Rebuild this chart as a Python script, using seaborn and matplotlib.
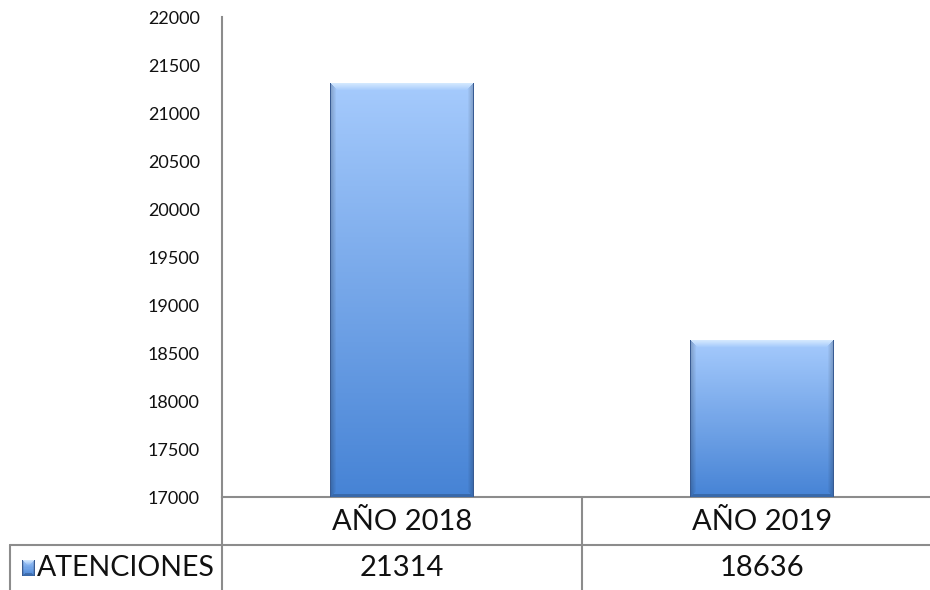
import numpy as np
import pandas as pd
import matplotlib
matplotlib.use("Agg")
import matplotlib.pyplot as plt
import matplotlib.transforms as mtransforms
from matplotlib.lines import Line2D
import seaborn as sns

categories = ["AÑO 2018", "AÑO 2019"]
values = [21314, 18636]
series_name = "ATENCIONES"
y_ticks = [17000, 17500, 18000, 18500, 19000, 19500, 20000, 20500, 21000, 21500, 22000]

sns.set_style("white")
plt.rcParams['font.family'] = ['Lato', 'DejaVu Sans']

W_PX, H_PX = 930, 590
fig = plt.figure(figsize=(W_PX / 100, H_PX / 100), dpi=100)

def fx(px):
    return px / W_PX

def fy(py):  # py measured from top
    return 1 - py / H_PX

ax_left, ax_right, ax_top, ax_bot = 222, 942, 17, 497
ax = fig.add_axes([fx(ax_left), fy(ax_bot), (ax_right - ax_left) / W_PX, (ax_bot - ax_top) / H_PX])

df = pd.DataFrame({"cat": categories, "val": values})
sns.barplot(data=df, x="cat", y="val", width=0.4, color="#7aaaf0", linewidth=0, ax=ax)

ax.set_xlim(-0.5, 1.5)
ax.set_ylim(y_ticks[0], y_ticks[-1])
ax.set_yticks(y_ticks)
ax.set_yticklabels([str(t) for t in y_ticks], fontsize=13, color="#111111")
ax.tick_params(axis="y", length=0, pad=16)
ax.set_xticks([])
ax.set_xlabel("")
ax.set_ylabel("")
for s in ["top", "right"]:
    ax.spines[s].set_visible(False)
grey = "#8c8c8c"
ax.spines["left"].set_color(grey)
ax.spines["left"].set_linewidth(1.5)
ax.spines["bottom"].set_color(grey)
ax.spines["bottom"].set_linewidth(1.5)

top_c = np.array([0xa6, 0xcb, 0xfd]) / 255
bot_c = np.array([0x46, 0x83, 0xd5]) / 255

def bar_image(W, H, b=8, side=6):
    i = np.arange(H)[:, None]
    j = np.arange(W)[None, :]
    t = (i / max(H - 1, 1))[..., None]
    img = (top_c * (1 - t) + bot_c * t) * np.ones((H, W, 1))
    dt = i * np.ones((1, W))
    dl = j * np.ones((H, 1))
    dr = (W - 1 - j) * np.ones((H, 1))
    db = (H - 1 - i) * np.ones((1, W))
    white = np.array([0.92, 0.97, 1.0])
    top_mask = (dt < b) & (dt <= dl) & (dt <= dr)
    a = (0.75 * (1 - dt / b))[..., None]
    img = np.where(top_mask[..., None], img * (1 - a) + white * a, img)
    side_l = (dl < side) & (dl < dt) & (dl <= db)
    side_r = (dr < side) & (dr < dt) & (dr <= db)
    f = (0.78 + 0.22 * np.minimum(dl, dr) / side)[..., None]
    img = np.where((side_l | side_r)[..., None], img * f, img)
    bot_mask = (db < 3) & (db < dl) & (db < dr)
    img = np.where(bot_mask[..., None], img * 0.8, img)
    edge = np.array([0.22, 0.36, 0.58])
    emask = (dl == 0) | (dr == 0)
    img = np.where(emask[..., None], edge, img)
    tmask = (dt == 0)
    img = np.where(tmask[..., None], np.array([0.45, 0.6, 0.8]), img)
    return np.clip(img, 0, 1)

fig.canvas.draw()
ylo = ax.get_ylim()[0]
for p in ax.patches:
    x0 = p.get_x()
    w = p.get_width()
    h_top = p.get_y() + p.get_height()
    bb = ax.transData.transform([[x0, ylo], [x0 + w, h_top]])
    Wp = int(round(abs(bb[1, 0] - bb[0, 0])))
    Hp = int(round(abs(bb[1, 1] - bb[0, 1])))
    img = bar_image(Wp, Hp)
    im = ax.imshow(img, extent=[x0, x0 + w, ylo, h_top], aspect="auto",
                   origin="upper", zorder=3, interpolation="nearest")
    im.set_clip_path(p)
    p.set_alpha(0)

ax.set_xlim(-0.5, 1.5)
ax.set_ylim(y_ticks[0], y_ticks[-1])

# data table
blend = mtransforms.blended_transform_factory(ax.transData, fig.transFigure)
for k, c in enumerate(categories):
    ax.text(k, fy(522), c, transform=blend, ha="center", va="center",
            fontsize=21, color="#111111", clip_on=False)
    ax.text(k, fy(568), str(values[k]), transform=blend, ha="center", va="center",
            fontsize=21, color="#111111", clip_on=False)

line_kw = dict(color=grey, linewidth=1.5, transform=fig.transFigure)
fig.add_artist(Line2D([fx(222), fx(222)], [fy(497), 0], **line_kw))
fig.add_artist(Line2D([fx(582), fx(582)], [fy(497), 0], **line_kw))
fig.add_artist(Line2D([fx(10), 1], [fy(545), fy(545)], **line_kw))
fig.add_artist(Line2D([fx(10), fx(10)], [fy(545), 0], **line_kw))

fig.text(fx(37), fy(568), series_name, ha="left", va="center", fontsize=20.5, color="#111111")

# legend key
kax = fig.add_axes([fx(22), fy(576), 12 / W_PX, 16 / H_PX])
key = bar_image(12, 16, b=6, side=2)
kax.imshow(key, aspect="auto", interpolation="nearest")
kax.set_axis_off()

fig.savefig("out.png", dpi=100)
